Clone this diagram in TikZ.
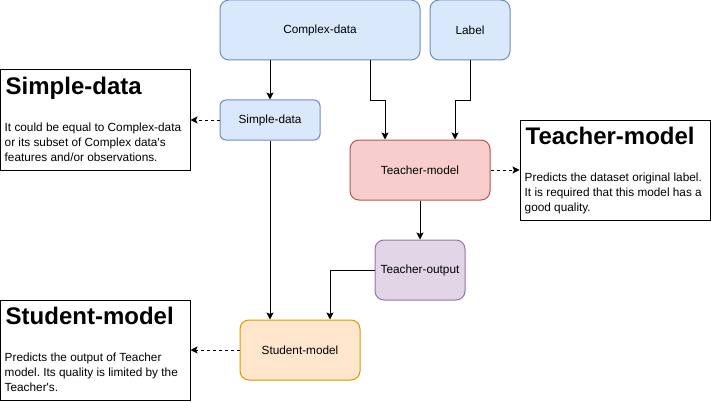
\documentclass[tikz,border=0pt]{standalone}
\usepackage{fontspec}
\setmainfont{Liberation Sans}
\usetikzlibrary{arrows.meta,calc}
\frenchspacing
\definecolor{bluefill}{HTML}{DAE8FC}
\definecolor{bluedraw}{HTML}{6C8EBF}
\definecolor{redfill}{HTML}{F8CECC}
\definecolor{reddraw}{HTML}{B85450}
\definecolor{purplefill}{HTML}{E1D5E7}
\definecolor{purpledraw}{HTML}{9673A6}
\definecolor{orangefill}{HTML}{FFE6CC}
\definecolor{orangedraw}{HTML}{D79B00}
\tikzset{
  proc/.style={rectangle, rounded corners=#1, draw, line width=1pt, inner sep=0pt,
    font=\fontsize{11.8}{14}\selectfont, text=black},
  bluebox/.style={proc=9pt, fill=bluefill, draw=bluedraw},
  redbox/.style={proc=9pt, fill=redfill, draw=reddraw},
  purplebox/.style={proc=9pt, fill=purplefill, draw=purpledraw},
  orangebox/.style={proc=9pt, fill=orangefill, draw=orangedraw},
  notebox/.style={rectangle, draw=black, line width=1pt, fill=white, inner sep=0pt,
    minimum width=190pt, minimum height=100pt},
  heading/.style={anchor=base west, inner sep=0pt, font=\fontsize{24}{28}\selectfont\bfseries},
  bodytext/.style={anchor=north west, inner sep=0pt, align=left, font=\fontsize{11.8}{15}\selectfont},
  arr/.style={line width=1pt, -{Stealth[length=7pt,width=7pt,inset=1.5pt]}},
  darr/.style={arr, dash pattern=on 3pt off 3pt},
}
\begin{document}
\begin{tikzpicture}[x=1pt,y=-1pt]
\useasboundingbox (0,0) rectangle (711,401);
% process nodes
\node[bluebox, minimum width=200pt, minimum height=60pt] (cd) at (320,30) {Complex-data};
\node[bluebox, minimum width=80pt, minimum height=60pt] (lb) at (470,30) {Label};
\node[bluebox, proc=6pt, minimum width=100pt, minimum height=40pt] (sd) at (270,120) {Simple-data};
\node[redbox, minimum width=140pt, minimum height=60pt] (tm) at (420,170) {Teacher-model};
\node[purplebox, minimum width=90pt, minimum height=60pt] (to) at (420,270) {Teacher-output};
\node[orangebox, minimum width=120pt, minimum height=60pt] (st) at (300,350) {Student-model};
% note boxes
\node[notebox] (sdbox) at (95,120) {};
\node[notebox] (tmbox) at (615,170) {};
\node[notebox] (stbox) at (95,350) {};
\node[heading] (sdh) at ($(sdbox.north west)+(6,25)$) {Simple-data};
\node[bodytext] (sdt) at ($(sdbox.north west)+(5,52)$) {\rule{0pt}{10pt}It could be equal to Complex-data\\or its subset of Complex data\textquotesingle s\\features and/or observations.};
\node[heading] (tmh) at ($(tmbox.north west)+(6,25)$) {Teacher-model};
\node[bodytext] (tmt) at ($(tmbox.north west)+(5,52)$) {\rule{0pt}{10pt}Predicts the dataset original label.\\It is required that this model has a\\good quality.};
\node[heading] (sth) at ($(stbox.north west)+(6,25)$) {Student-model};
\node[bodytext] (stt) at ($(stbox.north west)+(5,52)$) {\rule{0pt}{10pt}Predicts the output of Teacher\\model. Its quality is limited by the\\Teacher\textquotesingle s.};
% connectors
\draw[arr] (sd.north |- cd.south) -- (sd.north);
\draw[arr] ([xshift=50pt]cd.south) -- ++(0,40) -| ([xshift=-35pt]tm.north);
\draw[arr] (lb.south) -- ++(0,40) -| ([xshift=35pt]tm.north);
\draw[arr] (sd.south) -- (sd.south |- st.north);
\draw[arr] (tm.south) -- (to.north);
\draw[arr] (to.west) -| ([xshift=30pt]st.north);
\draw[darr] (sd.west) -- (sdbox.east);
\draw[darr] (tm.east) -- (tmbox.west);
\draw[darr] (st.west) -- (stbox.east);
\end{tikzpicture}
\end{document}
